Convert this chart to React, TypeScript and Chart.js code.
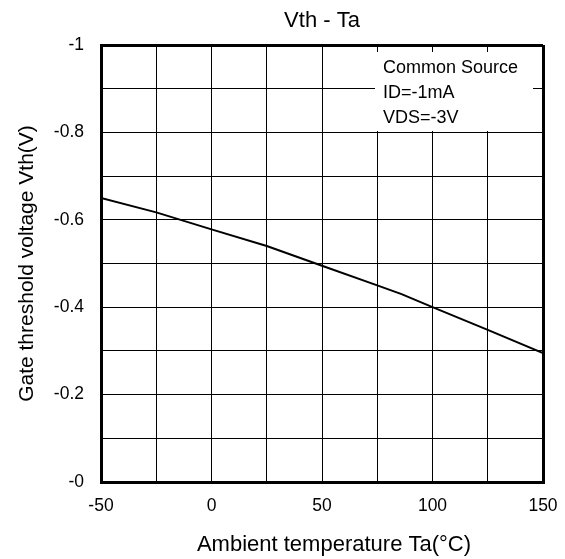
import React, { useEffect, useRef } from "react";
import { Chart, registerables } from "chart.js";

Chart.register(...registerables);

// Ambient temperature (°C) and gate threshold voltage (V)
const temperatures = [-50, -25, 0, 25, 50, 75, 86, 100, 125, 150];
const thresholdVoltage = [-0.65, -0.617, -0.578, -0.54, -0.495, -0.45, -0.43, -0.4, -0.348, -0.295];

// Tick labels (grid every 25 °C / 0.1 V, labels on every other line).
// The voltage axis is reversed, so its ticks run from 0 (bottom) to -1 (top).
const xTickLabels = ["-50", "", "0", "", "50", "", "100", "", "150"];
const yTickLabels = ["-0", "", "-0.2", "", "-0.4", "", "-0.6", "", "-0.8", "", "-1"];

const chartTitle = "Vth - Ta";
const xAxisTitle = "Ambient temperature Ta(°C)";
const yAxisTitle = "Gate threshold voltage Vth(V)";
const conditionLines = ["Common Source", "ID=-1mA", "VDS=-3V"];

const FONT = "'Liberation Sans', Arial, sans-serif";

// Center the chart title over the plot area instead of the whole canvas
const titleOverPlot = {
  id: "titleOverPlot",
  afterLayout(chart: any) {
    const block = chart.titleBlock;
    if (block) {
      block.left = chart.chartArea.left;
      block.right = chart.chartArea.right;
    }
  },
};

// Temperature axis title, set slightly right of the plot center
const xTitle = {
  id: "xTitle",
  afterDraw(chart: any) {
    const { ctx, chartArea } = chart;
    ctx.save();
    ctx.fillStyle = "#000000";
    ctx.font = `22px ${FONT}`;
    ctx.textAlign = "center";
    ctx.textBaseline = "middle";
    ctx.fillText(xAxisTitle, (chartArea.left + chartArea.right) / 2 + 12, chart.height - 14);
    ctx.restore();
  },
};

// White note box with the measurement conditions, top-right of the plot
const conditionsBox = {
  id: "conditionsBox",
  beforeDatasetsDraw(chart: any) {
    const { ctx, chartArea } = chart;
    const w = 158;
    const h = 79;
    const x = chartArea.right - 10 - w;
    const y = chartArea.top + 7;
    ctx.save();
    ctx.fillStyle = "#ffffff";
    ctx.fillRect(x, y, w, h);
    ctx.fillStyle = "#000000";
    ctx.font = `18px ${FONT}`;
    ctx.textBaseline = "alphabetic";
    ctx.textAlign = "left";
    conditionLines.forEach((line, i) => {
      ctx.fillText(line, x + 8, y + 21 + i * 25);
    });
    ctx.restore();
  },
};

export default function App() {
  const canvasRef = useRef<HTMLCanvasElement | null>(null);

  useEffect(() => {
    if (!canvasRef.current) return;
    const chart = new Chart(canvasRef.current, {
      type: "line",
      data: {
        datasets: [
          {
            data: temperatures.map((t, i) => ({ x: t, y: thresholdVoltage[i] })),
            borderColor: "#000000",
            borderWidth: 2,
            pointRadius: 0,
            tension: 0,
            fill: false,
          },
        ],
      },
      options: {
        responsive: false,
        animation: false,
        layout: { padding: { left: 0, right: 22, top: 0, bottom: 0 } },
        plugins: {
          legend: { display: false },
          tooltip: { enabled: false },
          title: {
            display: true,
            text: chartTitle,
            color: "#000000",
            font: { family: FONT, size: 22, weight: "normal" },
            padding: { top: 8, bottom: 10.6 },
          },
        },
        scales: {
          x: {
            type: "linear",
            min: -50,
            max: 150,
            afterFit(scale: any) {
              scale.height = 77;
              scale.paddingLeft = 0;
              scale.paddingRight = 0;
            },
            ticks: {
              stepSize: 25,
              color: "#000000",
              font: { family: FONT, size: 17.5 },
              padding: 14,
              maxRotation: 0,
              autoSkip: false,
              callback: (_v: any, i: number) => xTickLabels[i],
            },
            grid: {
              color: "#000000",
              lineWidth: (c: any) => (c.index === 0 || c.index === xTickLabels.length - 1 ? 3 : 1),
              drawTicks: false,
            },
            border: { display: true, color: "#000000", width: 3 },
            title: { display: false },
          },
          y: {
            type: "linear",
            min: -1,
            max: 0,
            reverse: true,
            afterFit(scale: any) {
              scale.width = 101;
              scale.paddingTop = 0;
              scale.paddingBottom = 0;
            },
            ticks: {
              stepSize: 0.1,
              color: "#000000",
              font: { family: FONT, size: 17.5 },
              padding: 17,
              autoSkip: false,
              callback: (_v: any, i: number) => yTickLabels[i],
            },
            grid: {
              color: "#000000",
              lineWidth: (c: any) => (c.index === 0 || c.index === yTickLabels.length - 1 ? 3 : 1),
              drawTicks: false,
            },
            border: { display: true, color: "#000000", width: 3 },
            title: {
              display: true,
              text: yAxisTitle,
              color: "#000000",
              font: { family: FONT, size: 21 },
              padding: { top: 14.4, bottom: 0 },
            },
          },
        },
      },
      plugins: [titleOverPlot, conditionsBox, xTitle],
    });
    return () => chart.destroy();
  }, []);

  return (
    <div style={{ position: "absolute", left: 0, top: 0, width: 565, height: 559, background: "#ffffff" }}>
      <canvas ref={canvasRef} width={565} height={559} style={{ display: "block" }} />
    </div>
  );
}
